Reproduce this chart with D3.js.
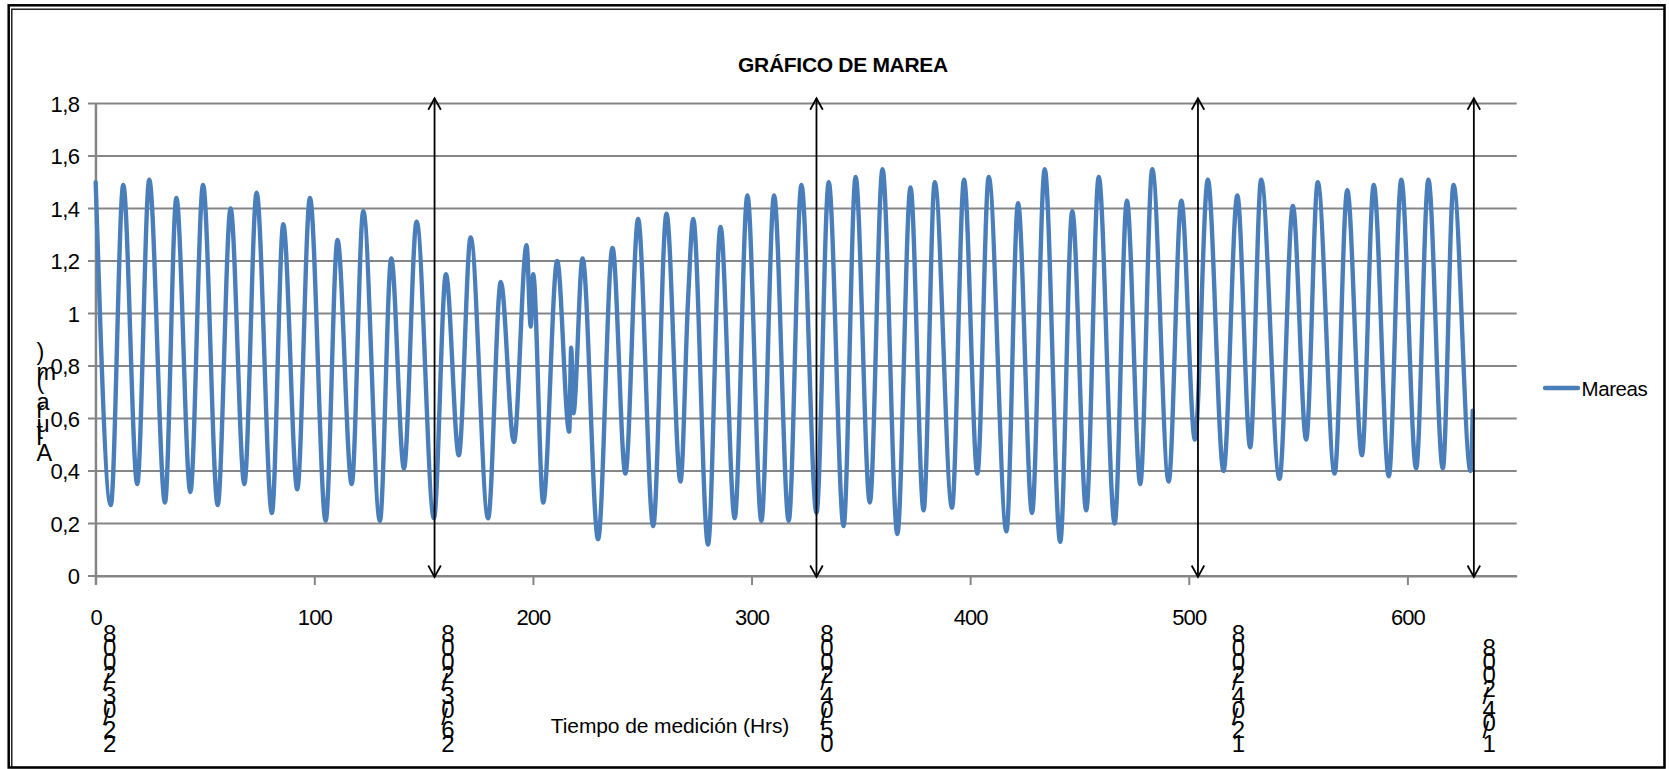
<!DOCTYPE html>
<html><head><meta charset="utf-8">
<script src="https://cdn.jsdelivr.net/npm/d3@7"></script>
<style>
html,body{margin:0;padding:0;background:#fff;}
svg{display:block;font-family:"Liberation Sans",Arial,sans-serif;}
</style></head><body>
<svg id="chart" width="1669" height="769"></svg>
<script>
// ---------- data ----------
const chartTitle = "GRÁFICO DE MAREA";
const xAxisTitle = "Tiempo de medición (Hrs)";
const yAxisTitle = "Altura (m)";
const seriesName = "Mareas";

// tide extremes (hour, level in m)
const hours = [0, 6.9, 12.6, 19.0, 24.5, 31.7, 36.9, 43.3, 49.1, 55.8, 61.7, 68.0, 73.6, 80.6, 85.8, 92.2, 98.0, 105.2,
  110.6, 117.1, 122.4, 130.0, 135.2, 141.0, 146.8, 154.7, 160.2, 166.1, 171.5, 179.5, 185.3, 191.3, 197.1, 199.0, 200.1,
  204.7, 211.1, 216.6, 217.5, 218.5, 222.7, 229.8, 236.4, 242.3, 248.1, 255.0, 261.1, 267.5, 271.0, 273.3, 280.1, 285.8,
  292.3, 298.1, 304.5, 310.3, 317.0, 322.8, 329.7, 335.3, 342.1, 347.6, 354.1, 359.9, 366.7, 372.7, 378.7, 383.8, 391.7,
  397.2, 403.3, 408.5, 416.6, 421.9, 428.3, 434.1, 441.2, 446.7, 453.1, 458.8, 466.1, 471.7, 477.8, 483.3, 490.8, 496.6,
  502.8, 508.7, 515.9, 522.2, 528.1, 533.1, 541.5, 547.6, 553.7, 559.0, 566.7, 572.5, 579.2, 584.6, 591.5, 597.2, 604.0,
  609.6, 616.2, 621.1, 628.9, 629.9];
const levels = [1.50, 0.27, 1.49, 0.35, 1.51, 0.28, 1.44, 0.32, 1.49, 0.27, 1.40, 0.35, 1.46, 0.24, 1.34, 0.33, 1.44, 0.21,
  1.28, 0.35, 1.39, 0.21, 1.21, 0.41, 1.35, 0.22, 1.15, 0.46, 1.29, 0.22, 1.12, 0.51, 1.26, 0.95, 1.15,
  0.28, 1.20, 0.55, 0.87, 0.62, 1.21, 0.14, 1.25, 0.39, 1.36, 0.19, 1.38, 0.36, 1.06, 1.36, 0.12, 1.33,
  0.22, 1.45, 0.21, 1.45, 0.21, 1.49, 0.24, 1.50, 0.19, 1.52, 0.28, 1.55, 0.16, 1.48, 0.25, 1.50, 0.26,
  1.51, 0.39, 1.52, 0.17, 1.42, 0.24, 1.55, 0.13, 1.39, 0.25, 1.52, 0.20, 1.43, 0.35, 1.55, 0.36, 1.43,
  0.52, 1.51, 0.40, 1.45, 0.49, 1.51, 0.37, 1.41, 0.52, 1.50, 0.39, 1.47, 0.46, 1.49, 0.38, 1.51, 0.41,
  1.51, 0.41, 1.49, 0.40, 0.63];

const xTicks = [0, 100, 200, 300, 400, 500, 600];
const xTickLabels = ["0", "100", "200", "300", "400", "500", "600"];
const yTicks = [0, 0.2, 0.4, 0.6, 0.8, 1, 1.2, 1.4, 1.6, 1.8];
const yTickLabels = ["0", "0,2", "0,4", "0,6", "0,8", "1", "1,2", "1,4", "1,6", "1,8"];

const markerHours = [155.0, 329.7, 504.2, 630.4];
const dateLabels = ["22/03/2008", "26/03/2008", "05/04/2008", "12/04/2008", "1/04/2008"];
const dateLabelHours = [3.3, 158.1, 331.4, 519.6, 634.3];

// ---------- drawing ----------
const svg = d3.select("#chart");
const W = 1669, H = 769;
const x = d3.scaleLinear().domain([0, 650]).range([95.7, 1516.7]);
const y = d3.scaleLinear().domain([0, 1.8]).range([576, 103.5]);
const gridColor = "#868686";
const blue = "#4a7ebb";

svg.append("rect").attr("width", W).attr("height", H).attr("fill", "#fff");

// frame (double border)
svg.append("rect").attr("x", 8.7).attr("y", 5.3).attr("width", 1664.5 - 8.7).attr("height", 767.5 - 5.3)
  .attr("fill", "none").attr("stroke", "#000").attr("stroke-width", 2.5);
svg.append("rect").attr("x", 11.8).attr("y", 9.2).attr("width", 1664.5 - 11.8).attr("height", 767.5 - 9.2)
  .attr("fill", "none").attr("stroke", "#000").attr("stroke-width", 1.3);

// horizontal gridlines (with outside tick)
svg.append("g").selectAll("line").data(yTicks).join("line")
  .attr("x1", x(0) - 7.7).attr("x2", x(650))
  .attr("y1", d => y(d)).attr("y2", d => y(d))
  .attr("stroke", gridColor).attr("stroke-width", 2);

// y axis
const yAxis = svg.append("g").attr("transform", `translate(${x(0)},0)`)
  .call(d3.axisLeft(y).tickValues(yTicks).tickSize(0).tickPadding(16.4)
    .tickFormat((d, i) => yTickLabels[i]));
yAxis.select(".domain").attr("stroke", gridColor).attr("stroke-width", 2);
yAxis.selectAll("text").attr("font-size", 22).attr("font-family", "Liberation Sans, Arial, sans-serif")
  .attr("fill", "#000").attr("letter-spacing", -0.6).attr("dy", "0.36em");

// x axis
const xAxis = svg.append("g").attr("transform", `translate(0,${y(0)})`)
  .call(d3.axisBottom(x).tickValues(xTicks).tickSizeInner(9).tickSizeOuter(0)
    .tickFormat((d, i) => xTickLabels[i]));
xAxis.select(".domain").attr("stroke", gridColor).attr("stroke-width", 2);
xAxis.selectAll(".tick line").attr("stroke", gridColor).attr("stroke-width", 2);
xAxis.selectAll("text").attr("font-size", 22).attr("font-family", "Liberation Sans, Arial, sans-serif")
  .attr("fill", "#000").attr("letter-spacing", -0.9).attr("y", 49).attr("dy", 0);

// y axis line extension below 0 (tick at origin)
svg.append("line").attr("x1", x(0)).attr("x2", x(0)).attr("y1", y(1.8)).attr("y2", y(0) + 9)
  .attr("stroke", gridColor).attr("stroke-width", 2);

// series line
const line = d3.line().x((d, i) => x(hours[i])).y((d, i) => y(levels[i])).curve(d3.curveMonotoneX);
svg.append("path").datum(levels).attr("d", line)
  .attr("fill", "none").attr("stroke", blue).attr("stroke-width", 4.4)
  .attr("stroke-linejoin", "round").attr("stroke-linecap", "round");

// double-headed vertical arrows
const arrows = svg.append("g").attr("stroke", "#000").attr("stroke-width", 1.8).attr("fill", "none");
markerHours.forEach(h => {
  const xp = x(h), top = y(1.82), bot = y(0) + 1;
  arrows.append("line").attr("x1", xp).attr("x2", xp).attr("y1", top).attr("y2", bot);
  arrows.append("path").attr("d", `M${xp - 6.3},${top + 11.5}L${xp},${top}L${xp + 6.3},${top + 11.5}`);
  arrows.append("path").attr("d", `M${xp - 6.3},${bot - 11.5}L${xp},${bot}L${xp + 6.3},${bot - 11.5}`);
});

// stacked (rotated-baseline, upright glyph) labels
function stacked(txt, x0, y0, size, ls) {
  return svg.append("text")
    .attr("transform", `translate(${x0},${y0}) rotate(-90)`)
    .attr("rotate", Array.from(txt).map(() => 90).join(" "))
    .attr("font-size", size).attr("letter-spacing", ls).attr("fill", "#000")
    .text(txt);
}
dateLabels.forEach((s, i) => stacked(s, x(dateLabelHours[i]), 752, 24, 0.3));

// y axis title (stacked)
stacked(yAxisTitle, 36.5, 461, 23.5, 0.6);

// title
svg.append("text").attr("x", 843).attr("y", 72).attr("text-anchor", "middle")
  .attr("font-size", 21).attr("font-weight", "bold").attr("letter-spacing", -0.3)
  .attr("fill", "#000").text(chartTitle);

// x axis title
svg.append("text").attr("x", 670).attr("y", 733).attr("text-anchor", "middle")
  .attr("font-size", 21).attr("letter-spacing", -0.1).attr("fill", "#000").text(xAxisTitle);

// legend
svg.append("line").attr("x1", 1545).attr("x2", 1578).attr("y1", 388).attr("y2", 388)
  .attr("stroke", blue).attr("stroke-width", 4.4).attr("stroke-linecap", "round");
svg.append("text").attr("x", 1581.5).attr("y", 395.5).attr("font-size", 20.5)
  .attr("letter-spacing", -0.4).attr("fill", "#000").text(seriesName);
</script>
</body></html>
